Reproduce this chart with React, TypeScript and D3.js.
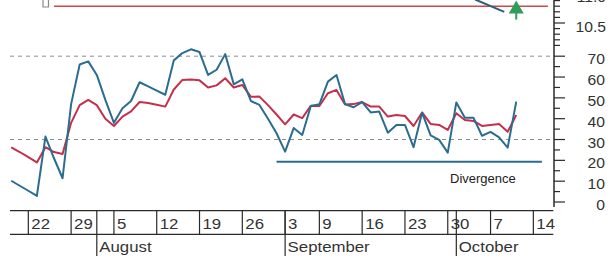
import React from "react";
import * as d3 from "d3";

// trading-day index -2 .. 57 (Jul 18 .. Oct 10)
const startIndex = -2;
const rsiValues = [
  10.2, 7.8, 5.4, 2.9, 31.4, 21, 11.4, 47, 66, 67.5, 61, 49, 38, 45, 48.5, 57.5,
  55.5, 53.5, 51.5, 68, 71.5, 73.3, 72, 61, 63.5, 71, 56.5, 58.9, 48.5, 46.6, 40, 33,
  24.2, 35.5, 32.2, 46.1, 46.9, 57.8, 61, 47, 45.5, 48, 43, 43.4, 33.3, 37, 37, 26.3,
  42.9, 32, 29.8, 23.7, 47.8, 40.5, 40.5, 31.8, 33.7, 31, 26.1, 48.2,
];
const signalValues = [
  26.2, 24, 21.5, 19, 26.3, 24, 23, 38, 46.5, 49, 46.5, 40, 36.5, 41, 43.5, 48,
  47.5, 46.7, 45.8, 54, 58.6, 58.8, 58.4, 55, 56, 59.4, 55, 56.2, 50.5, 50.6, 46.5, 42,
  37.3, 42, 40.3, 46.2, 46.1, 52.2, 53.8, 46.8, 47, 48, 45.8, 45.8, 41, 41.8, 41.3, 36.5,
  43, 37.5, 37, 34.6, 42.6, 39.4, 38.9, 36.5, 37, 37.4, 33.7, 41.8,
];

const weekLabels = ["22", "29", "5", "12", "19", "26", "3", "9", "16", "23", "30", "7", "14"];
const weekIndex = [0, 5, 10, 15, 20, 25, 30, 34, 39, 44, 49, 54, 59];
const monthLabels = ["August", "September", "October"];
const monthIndex = [8, 30, 50];

const rsiTicks = [0, 10, 20, 30, 40, 50, 60, 70];
const rsiMinorTicks = [5, 15, 25, 35, 45, 55, 65];
const rsiBands = [30, 70];
const priceTicks = [10.5, 11.0];
const priceMinorTicks = [10.1, 10.2, 10.3, 10.4, 10.6, 10.7, 10.8, 10.9];

const divergenceIndex = [29, 60];
const divergenceValue = [19.3, 19.3];
const priceLevel = 10.8;
const priceLevelIndex = [3, 60.7];
const priceIndex = [52.2, 55.6];
const priceValues = [10.92, 10.7];
const arrowIndex = 57;
const arrowPrice = 10.9;

const W = 610;
const H = 260;

export default function App() {
  const x = d3.scaleLinear().domain([-2.14, 61.33]).range([10, 553.3]);
  const y = d3.scaleLinear().domain([0, 70]).range([202, 56.2]);
  const yp = d3.scaleLinear().domain([10.5, 11.0]).range([23, -5]);
  const axisX = 554;

  const line = d3
    .line<number>()
    .x((_, i) => x(startIndex + i))
    .y((d) => y(d));

  const blue = "#2b6c91";
  const red = "#c4304a";
  const ink = "#2a2a2a";
  const font = "'Liberation Sans', Arial, sans-serif";

  const rowTop = 210.7;
  const rowMid = 234.3;
  const rowBot = 256;

  const ax = x(arrowIndex);
  const ay = yp(arrowPrice);

  return (
    <svg
      width={W}
      height={H}
      style={{ position: "absolute", left: 0, top: 0, background: "#fff" }}
    >
      {/* top price panel */}
      <path d="M43,0 L43,7 L48.5,7 L48.5,0" fill="none" stroke="#8a8a8a" strokeWidth={1.2} />
      <line
        x1={x(priceLevelIndex[0])}
        x2={x(priceLevelIndex[1])}
        y1={yp(priceLevel)}
        y2={yp(priceLevel)}
        stroke="#d04848"
        strokeWidth={1.6}
      />
      <path
        d={
          d3
            .line<number>()
            .x((_, i) => x(priceIndex[i]))
            .y((d) => yp(d))(priceValues) || ""
        }
        fill="none"
        stroke="#2f5f80"
        strokeWidth={2}
      />
      <line x1={ax} x2={ax} y1={ay + 8} y2={ay + 19} stroke="#2f9e5c" strokeWidth={2} />
      <path
        d={`M${ax},${ay} L${ax - 7.5},${ay + 13} L${ax + 7.5},${ay + 13} Z`}
        fill="#2f9e5c"
      />

      {/* RSI bands */}
      {rsiBands.map((v) => (
        <line
          key={v}
          x1={10}
          x2={axisX}
          y1={y(v)}
          y2={y(v)}
          stroke="#8c8c8c"
          strokeWidth={1}
          strokeDasharray="4,4"
        />
      ))}

      {/* divergence */}
      <line
        x1={x(divergenceIndex[0])}
        x2={x(divergenceIndex[1])}
        y1={y(divergenceValue[0])}
        y2={y(divergenceValue[1])}
        stroke={blue}
        strokeWidth={2}
      />
      <text x={450} y={183} fontFamily={font} fontSize={13} fill="#222">
        Divergence
      </text>

      {/* series */}
      <path d={line(signalValues) || ""} fill="none" stroke={red} strokeWidth={2} strokeLinejoin="round" />
      <path d={line(rsiValues) || ""} fill="none" stroke={blue} strokeWidth={2} strokeLinejoin="round" />

      {/* right axis */}
      <line x1={axisX} x2={axisX} y1={0} y2={207} stroke={ink} strokeWidth={1.5} />
      {rsiTicks.map((t) => (
        <g key={"t" + t}>
          <line x1={axisX} x2={axisX + 11} y1={y(t)} y2={y(t)} stroke={ink} strokeWidth={1.2} />
          <text
            transform={`translate(605,${y(t) + 8}) scale(1.12,1)`}
            textAnchor="end"
            fontFamily={font}
            fontSize={14}
            fill="#333"
          >
            {t}
          </text>
        </g>
      ))}
      {rsiMinorTicks.map((t) => (
        <line key={"m" + t} x1={axisX} x2={axisX + 6} y1={y(t)} y2={y(t)} stroke={ink} strokeWidth={1.2} />
      ))}
      {priceTicks.map((t) => (
        <g key={"p" + t}>
          <line x1={axisX} x2={axisX + 11} y1={yp(t)} y2={yp(t)} stroke={ink} strokeWidth={1.2} />
          <text
            transform={`translate(606,${yp(t) + (t === 11 ? 7 : 9)}) scale(1.12,1)`}
            textAnchor="end"
            fontFamily={font}
            fontSize={14}
            fill="#333"
          >
            {t.toFixed(1)}
          </text>
        </g>
      ))}
      {priceMinorTicks.map((t) => (
        <line key={"pm" + t} x1={axisX} x2={axisX + 6} y1={yp(t)} y2={yp(t)} stroke={ink} strokeWidth={1.2} />
      ))}

      {/* date axis */}
      <line x1={10} x2={553.3} y1={rowTop} y2={rowTop} stroke={ink} strokeWidth={1.2} />
      <line x1={10} x2={553.3} y1={rowMid} y2={rowMid} stroke={ink} strokeWidth={1.2} />
      {weekIndex.map((wi, k) => (
        <g key={"w" + k}>
          <line x1={x(wi)} x2={x(wi)} y1={rowTop} y2={rowMid} stroke={ink} strokeWidth={1.2} />
          <text
            transform={`translate(${x(wi) + 3},${rowMid - 5}) scale(1.12,1)`}
            fontFamily={font}
            fontSize={15}
            fill="#333"
          >
            {weekLabels[k]}
          </text>
        </g>
      ))}
      {monthIndex.map((mi, k) => (
        <g key={"mo" + k}>
          <line x1={x(mi)} x2={x(mi)} y1={rowTop} y2={rowBot} stroke={ink} strokeWidth={1.2} />
          <text
            transform={`translate(${x(mi) + 2.5},${rowBot - 4.5}) scale(1.12,1)`}
            fontFamily={font}
            fontSize={15}
            fill="#333"
          >
            {monthLabels[k]}
          </text>
        </g>
      ))}
    </svg>
  );
}
